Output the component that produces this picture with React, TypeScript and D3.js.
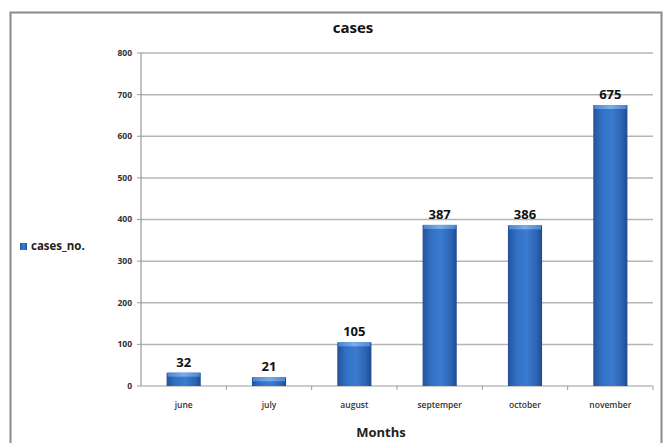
import * as d3 from "d3";

const months = ["june", "july", "august", "septemper", "october", "november"];
const casesNo = [32, 21, 105, 387, 386, 675];
const yTicks = [0, 100, 200, 300, 400, 500, 600, 700, 800];

const W = 667;
const H = 443;
const font = "'Open Sans', 'Liberation Sans', sans-serif";

export default function App() {
  const plot = { left: 141, right: 653, top: 53, bottom: 386 };

  const x = d3.scaleBand<string>().domain(months).range([plot.left, plot.right]).paddingInner(0.6).paddingOuter(0.3);
  const xTick = d3.scaleBand<string>().domain(months).range([plot.left, plot.right]);
  const y = d3.scaleLinear().domain([0, 800]).range([plot.bottom, plot.top]);

  const bw = x.bandwidth();

  return (
    <div style={{ position: "fixed", left: 0, top: 0, width: W, height: H, background: "#fff" }}>
      <svg width={W} height={H} style={{ display: "block" }}>
        <defs>
          <linearGradient id="barFill" x1="0" x2="1" y1="0" y2="0">
            <stop offset="0" stopColor="#24529c" />
            <stop offset="0.25" stopColor="#3270c4" />
            <stop offset="0.55" stopColor="#3a7bd0" />
            <stop offset="0.85" stopColor="#2c63b2" />
            <stop offset="1" stopColor="#1f4a8e" />
          </linearGradient>
          <linearGradient id="capFill" x1="0" x2="1" y1="0" y2="0">
            <stop offset="0" stopColor="#4d86d0" />
            <stop offset="0.5" stopColor="#7aaeea" />
            <stop offset="1" stopColor="#4d86d0" />
          </linearGradient>
        </defs>

        <rect x={0} y={0} width={W} height={H} fill="#fff" />
        <rect x={10.5} y={12.5} width={651} height={H + 10} fill="#fff" stroke="#8a8a8a" strokeWidth={2} />

        <text x={353} y={33} textAnchor="middle" fontFamily={font} fontWeight={700} fontSize={15} fill="#111">
          cases
        </text>

        {yTicks.map((t) => (
          <g key={t}>
            {t > 0 && (
              <line x1={plot.left} x2={plot.right} y1={y(t)} y2={y(t)} stroke="#b5b5b5" strokeWidth={1.5} />
            )}
            <line x1={plot.left - 4} x2={plot.left} y1={y(t)} y2={y(t)} stroke="#999" />
            <text x={plot.left - 9} y={y(t)} dy="0.35em" textAnchor="end" fontFamily={font} fontWeight={700} fontSize={8.5} fill="#333">
              {t}
            </text>
          </g>
        ))}

        <line x1={plot.left} x2={plot.left} y1={plot.top} y2={plot.bottom} stroke="#999" strokeWidth={1.2} />
        <line x1={plot.left} x2={plot.right} y1={plot.bottom} y2={plot.bottom} stroke="#999" strokeWidth={1.2} />
        {months.map((m, i) => (
          <line
            key={m}
            x1={(xTick(m) ?? 0) + xTick.bandwidth()}
            x2={(xTick(m) ?? 0) + xTick.bandwidth()}
            y1={plot.bottom}
            y2={plot.bottom + 4}
            stroke="#999"
            opacity={i === months.length - 1 ? 1 : 1}
          />
        ))}

        {months.map((m, i) => {
          const bx = x(m) ?? 0;
          const by = y(casesNo[i]);
          const bh = plot.bottom - by;
          return (
            <g key={m}>
              <rect x={bx} y={by} width={bw} height={bh} fill="url(#barFill)" />
              <rect x={bx + 1} y={by} width={bw - 2} height={Math.min(4, bh)} fill="url(#capFill)" />
              <text
                x={bx + bw / 2}
                y={by - 6}
                textAnchor="middle"
                fontFamily={font}
                fontWeight={700}
                fontSize={13}
                fill="#111"
              >
                {casesNo[i]}
              </text>
              <text
                x={(xTick(m) ?? 0) + xTick.bandwidth() / 2}
                y={plot.bottom + 22}
                textAnchor="middle"
                fontFamily={font}
                fontWeight={600}
                fontSize={8.5}
                fill="#333"
              >
                {m}
              </text>
            </g>
          );
        })}

        <text x={381} y={437} textAnchor="middle" fontFamily={font} fontWeight={700} fontSize={13} fill="#222">
          Months
        </text>

        <rect x={20} y={243} width={7} height={7} fill="url(#barFill)" />
        <text x={31} y={250} fontFamily={font} fontWeight={700} fontSize={11.5} fill="#222">
          cases_no.
        </text>
      </svg>
    </div>
  );
}
